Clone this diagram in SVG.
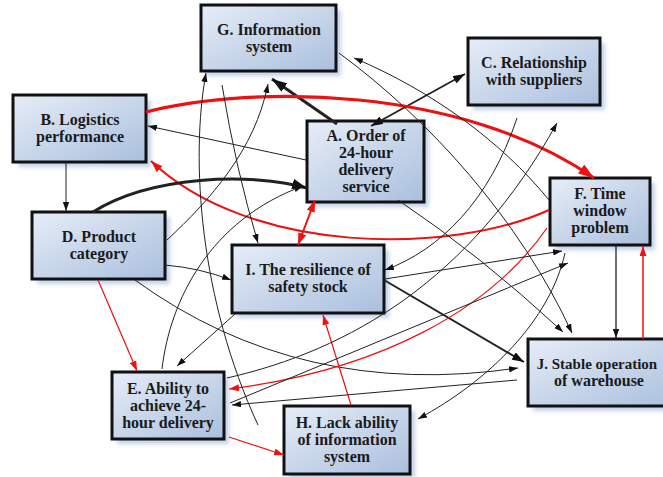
<svg xmlns="http://www.w3.org/2000/svg" width="663" height="477" viewBox="0 0 663 477">
<defs>
<linearGradient id="bg" x1="0" y1="0" x2="1" y2="1">
<stop offset="0" stop-color="#e6edf7"/>
<stop offset="1" stop-color="#aabfdd"/>
</linearGradient>
<filter id="sh" x="-20%" y="-20%" width="140%" height="140%"><feGaussianBlur stdDeviation="2"/></filter>
<marker id="ak" viewBox="0 0 10 7" refX="10" refY="3.5" markerWidth="9" markerHeight="6.3" markerUnits="userSpaceOnUse" orient="auto-start-reverse"><path d="M0,0 L10,3.5 L0,7 z" fill="#111"/></marker>
<marker id="akm" viewBox="0 0 10 7" refX="10" refY="3.5" markerWidth="12" markerHeight="8.4" markerUnits="userSpaceOnUse" orient="auto-start-reverse"><path d="M0,0 L10,3.5 L0,7 z" fill="#111"/></marker>
<marker id="akb" viewBox="0 0 10 7" refX="10" refY="3.5" markerWidth="15" markerHeight="10.5" markerUnits="userSpaceOnUse" orient="auto-start-reverse"><path d="M0,0 L10,3.5 L0,7 z" fill="#111"/></marker>
<marker id="ar" viewBox="0 0 10 7" refX="10" refY="3.5" markerWidth="10" markerHeight="7" markerUnits="userSpaceOnUse" orient="auto-start-reverse"><path d="M0,0 L10,3.5 L0,7 z" fill="#ee1111"/></marker>
<marker id="arm" viewBox="0 0 10 7" refX="10" refY="3.5" markerWidth="12" markerHeight="8.4" markerUnits="userSpaceOnUse" orient="auto-start-reverse"><path d="M0,0 L10,3.5 L0,7 z" fill="#ee1111"/></marker>
<marker id="arb" viewBox="0 0 10 7" refX="10" refY="3.5" markerWidth="16" markerHeight="11" markerUnits="userSpaceOnUse" orient="auto-start-reverse"><path d="M0,0 L10,3.5 L0,7 z" fill="#ee1111"/></marker>
</defs>
<style>
.box{fill:url(#bg);stroke:#111;stroke-width:3}
.shd{fill:#c3d2ea;filter:url(#sh)}
.t{font-family:"Liberation Serif","Times New Roman",serif;font-weight:bold;font-size:16px;fill:#1a1a1a;text-anchor:middle}
.k{fill:none;stroke:#222;stroke-width:1}
.r{fill:none;stroke:#ee1111;stroke-width:1.2}
</style>
<rect width="663" height="477" fill="#fff"/>

<g id="node-G"><rect class="shd" x="206" y="10" width="135" height="66"/><rect class="box" x="201" y="5" width="135" height="66"/><text class="t" x="269" y="35">G. Information</text><text class="t" x="269" y="52">system</text></g>
<g id="node-C"><rect class="shd" x="473" y="43" width="132" height="67"/><rect class="box" x="468" y="38" width="132" height="67"/><text class="t" x="534" y="68">C. Relationship</text><text class="t" x="534" y="85">with suppliers</text></g>
<g id="node-B"><rect class="shd" x="18" y="100" width="133" height="67"/><rect class="box" x="13" y="95" width="133" height="67"/><text class="t" x="80" y="125">B. Logistics</text><text class="t" x="80" y="142">performance</text></g>
<g id="node-A"><rect class="shd" x="312" y="126" width="117" height="81"/><rect class="box" x="307" y="121" width="117" height="81"/><text class="t" x="366" y="141">A. Order of</text><text class="t" x="366" y="158">24-hour</text><text class="t" x="366" y="175">delivery</text><text class="t" x="366" y="192">service</text></g>
<g id="node-D"><rect class="shd" x="37" y="217" width="133" height="67"/><rect class="box" x="32" y="212" width="133" height="67"/><text class="t" x="99" y="242">D. Product</text><text class="t" x="99" y="259">category</text></g>
<g id="node-F"><rect class="shd" x="555" y="183" width="100" height="67"/><rect class="box" x="550" y="178" width="100" height="67"/><text class="t" x="600" y="199">F. Time</text><text class="t" x="600" y="216">window</text><text class="t" x="600" y="233">problem</text></g>
<g id="node-I"><rect class="shd" x="237" y="250" width="152" height="68"/><rect class="box" x="232" y="245" width="152" height="68"/><text class="t" x="308" y="275">I. The resilience of</text><text class="t" x="308" y="292">safety stock</text></g>
<g id="node-J"><rect class="shd" x="533" y="344" width="152" height="67"/><rect class="box" x="528" y="339" width="152" height="67"/><text class="t" x="597" y="369" style="font-size:15px">J. Stable operation</text><text class="t" x="599" y="386">of warehouse</text></g>
<g id="node-E"><rect class="shd" x="117" y="377" width="112" height="67"/><rect class="box" x="112" y="372" width="112" height="67"/><text class="t" x="168" y="394">E. Ability to</text><text class="t" x="168" y="411">achieve 24-</text><text class="t" x="168" y="428">hour delivery</text></g>
<g id="node-H"><rect class="shd" x="289" y="411" width="126" height="68"/><rect class="box" x="284" y="406" width="126" height="68"/><text class="t" x="347" y="428">H. Lack ability</text><text class="t" x="347" y="445">of information</text><text class="t" x="347" y="462">system</text></g>

<g id="connectors">
<path class="k" d="M337,124 L272,79" style="stroke-width:3" marker-end="url(#akb)"/>
<path class="k" d="M371,126 L465,74" style="stroke-width:1.8" marker-start="url(#akm)" marker-end="url(#akm)"/>
<path class="r" d="M146,112 C250,85 460,85 594,178" style="stroke-width:3.2" marker-end="url(#arb)"/>
<path class="r" d="M549,210 C450,255 250,255 151,161" style="stroke-width:2" marker-end="url(#arm)"/>
<path class="k" d="M306,160 L148,126" marker-end="url(#ak)"/>
<path class="k" d="M93,212 C150,176 250,172 307,188" style="stroke-width:3" marker-end="url(#akb)"/>
<path class="r" d="M315,200 L298,245" style="stroke-width:2" marker-start="url(#arm)" marker-end="url(#arm)"/>
<path class="k" d="M66,162 L66,211" marker-end="url(#ak)"/>
<path class="r" d="M98,280 L137,371" marker-end="url(#ar)"/>
<path class="k" d="M165,265 Q200,268 231,280" marker-end="url(#ak)"/>
<path class="k" d="M135,280 Q300,400 518,368" marker-end="url(#ak)"/>
<path class="k" d="M384,280 L524,362" style="stroke-width:2" marker-end="url(#akm)"/>
<path class="k" d="M235,314 L177,366" marker-end="url(#ak)"/>
<path class="k" d="M616,245 L616,338" style="stroke-width:1.3" marker-end="url(#ak)"/>
<path class="r" d="M643,339 L643,246" style="stroke-width:1.5" marker-end="url(#ar)"/>
<path class="r" d="M351,405 L323,315" marker-end="url(#ar)"/>
<path class="r" d="M229,437 L284,455" marker-end="url(#ar)"/>
<path class="r" d="M547,228 C490,310 380,370 229,389" marker-end="url(#ar)"/>
<path class="k" d="M230,403 L568,263" marker-end="url(#ak)"/>
<path class="k" d="M227,378 C350,350 470,280 557,123" marker-end="url(#ak)"/>
<path class="k" d="M517,380 L232,405" marker-end="url(#ak)"/>
<path class="k" d="M565,253 C550,320 490,380 418,419" marker-end="url(#ak)"/>
<path class="k" d="M385,279 L562,251" marker-end="url(#ak)"/>
<path class="k" d="M517,118 C490,200 440,250 385,270" marker-end="url(#ak)"/>
<path class="k" d="M339,53 C430,120 520,220 572,333" marker-end="url(#ak)"/>
<path class="k" d="M398,200 Q480,255 563,332" marker-end="url(#ak)"/>
<path class="k" d="M549,200 C500,140 430,90 354,58" marker-end="url(#ak)"/>
<path class="k" d="M167,240 C210,200 255,150 268,84" marker-end="url(#ak)"/>
<path class="k" d="M258,425 C200,300 190,160 206,73" marker-end="url(#ak)"/>
<path class="k" d="M222,85 Q236,170 258,243" marker-end="url(#ak)"/>
<path class="k" d="M162,369 C170,300 210,220 303,186" marker-end="url(#ak)"/>
</g>
</svg>
